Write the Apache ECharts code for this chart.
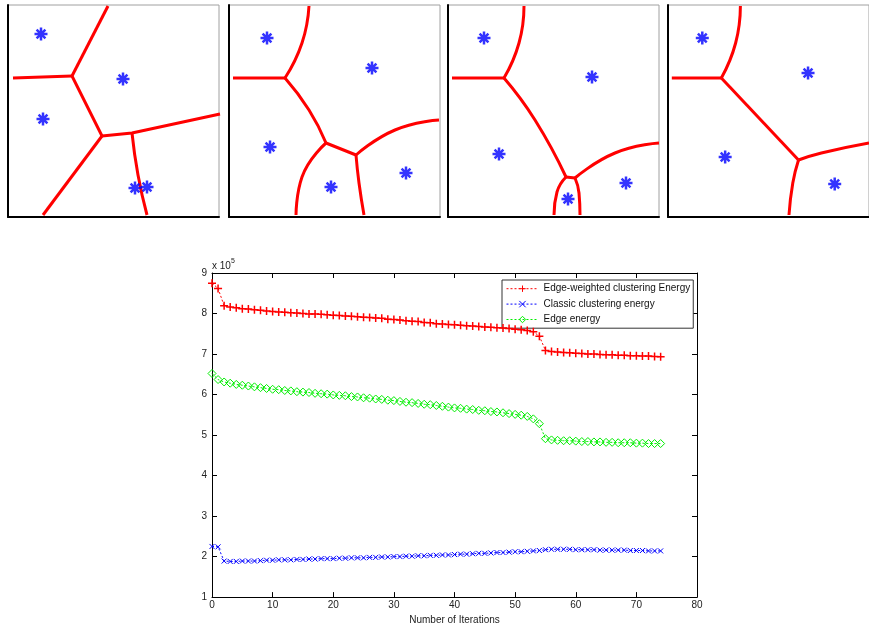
<!DOCTYPE html>
<html>
<head>
<meta charset="utf-8">
<script src="https://cdn.jsdelivr.net/npm/echarts@6/dist/echarts.min.js"></script>
<style>
html,body{margin:0;padding:0;background:#fff;}
#c{width:869px;height:630px;}
</style>
</head>
<body>
<div id="c"></div>
<script>
// ---------- main chart data ----------
const iterations = Array.from({length: 75}, (_, i) => i);
const edgeWeightedEnergy = [8.75,8.62,8.19,8.16,8.14,8.12,8.11,8.09,8.08,8.06,
  8.05,8.04,8.03,8.02,8.01,8.00,7.99,7.99,7.98,7.97,
  7.96,7.95,7.94,7.93,7.92,7.91,7.90,7.89,7.88,7.86,
  7.85,7.84,7.82,7.81,7.80,7.78,7.77,7.75,7.74,7.73,
  7.72,7.71,7.70,7.69,7.68,7.67,7.66,7.65,7.64,7.63,
  7.61,7.60,7.58,7.55,7.44,7.09,7.06,7.05,7.04,7.03,
  7.02,7.01,7.00,7.00,6.99,6.98,6.98,6.97,6.97,6.96,
  6.96,6.95,6.95,6.94,6.93];
const classicEnergy = [2.25,2.24,1.89,1.88,1.88,1.89,1.89,1.89,1.90,1.91,
  1.91,1.92,1.92,1.92,1.93,1.93,1.94,1.94,1.95,1.95,
  1.95,1.96,1.96,1.97,1.97,1.97,1.98,1.98,1.99,1.99,
  2.00,2.00,2.01,2.01,2.02,2.02,2.03,2.03,2.04,2.04,
  2.05,2.06,2.06,2.07,2.08,2.08,2.09,2.10,2.10,2.11,
  2.12,2.12,2.13,2.14,2.15,2.17,2.18,2.18,2.18,2.18,
  2.17,2.17,2.17,2.17,2.16,2.16,2.16,2.16,2.16,2.15,
  2.15,2.15,2.14,2.14,2.14];
const edgeEnergy = [6.52,6.37,6.31,6.28,6.25,6.23,6.21,6.19,6.17,6.15,
  6.13,6.12,6.10,6.09,6.07,6.06,6.05,6.03,6.02,6.01,
  5.99,5.98,5.97,5.95,5.94,5.92,5.91,5.89,5.88,5.86,
  5.85,5.83,5.81,5.80,5.78,5.76,5.75,5.73,5.71,5.69,
  5.67,5.66,5.64,5.63,5.61,5.60,5.58,5.57,5.55,5.53,
  5.51,5.49,5.46,5.40,5.28,4.91,4.88,4.87,4.86,4.86,
  4.85,4.84,4.84,4.83,4.83,4.82,4.82,4.81,4.81,4.81,
  4.80,4.80,4.79,4.79,4.79];
const seriesNames = ['Edge-weighted clustering Energy','Classic clustering energy','Edge energy'];
const xTicks = [0,10,20,30,40,50,60,70,80];
const yTicks = [1,2,3,4,5,6,7,8,9];
const xTitle = 'Number of Iterations';

// ---------- top panels: region boundaries & centers (panel units, y downward) ----------
const panel1Centers = [[33,29],[115,74],[35,114],[127,183],[139,182]];
const panel1Edges = [
  {pts:[[5,73],[64,71]], smooth:false},
  {pts:[[64,71],[100,1]], smooth:false},
  {pts:[[64,71],[94,131]], smooth:false},
  {pts:[[94,131],[35,210]], smooth:false},
  {pts:[[94,131],[124,128],[212,109]], smooth:false},
  {pts:[[124,128],[130,170],[139,210]], smooth:true}
];
const panel2Centers = [[38,33],[143,63],[41,142],[102,182],[177,168]];
const panel2Edges = [
  {pts:[[4,73],[56,73]], smooth:false},
  {pts:[[56,73],[73,38],[80,1]], smooth:true},
  {pts:[[56,73],[80,105],[97,138]], smooth:true},
  {pts:[[97,138],[127,150]], smooth:false},
  {pts:[[97,138],[73,172],[67,210]], smooth:true},
  {pts:[[127,150],[130,178],[135,210]], smooth:true},
  {pts:[[127,150],[166,125],[210,115]], smooth:true}
];
const panel3Centers = [[36,33],[144,72],[51,149],[120,194],[178,178]];
const panel3Edges = [
  {pts:[[4,73],[56,73]], smooth:false},
  {pts:[[56,73],[71,38],[76,1]], smooth:true},
  {pts:[[56,73],[87,115],[118,172]], smooth:true},
  {pts:[[118,172],[127,173]], smooth:false},
  {pts:[[118,172],[109,187],[106,210]], smooth:true},
  {pts:[[127,173],[131,188],[132,210]], smooth:true},
  {pts:[[127,173],[167,148],[211,138]], smooth:true}
];
const panel4Centers = [[36,33],[147,68],[60,152],[175,179]];
const panel4Edges = [
  {pts:[[4,73],[56,73]], smooth:false},
  {pts:[[56,73],[71,38],[76,1]], smooth:true},
  {pts:[[56,73],[137,155]], smooth:false},
  {pts:[[137,155],[131,178],[127,210]], smooth:true},
  {pts:[[137,155],[161,148],[211,138]], smooth:true}
];
const panels = [
  {centers: panel1Centers, edges: panel1Edges},
  {centers: panel2Centers, edges: panel2Edges},
  {centers: panel3Centers, edges: panel3Edges},
  {centers: panel4Centers, edges: panel4Edges}
];

// ---------- layout ----------
const panelLefts = [8, 229, 448, 668];
const panelTop = 5, panelSize = 211;
const mainGrid = {left: 212, top: 273, width: 485, height: 327};

const chart = echarts.init(document.getElementById('c'), null, {renderer: 'canvas'});

const grids = [], xAxes = [], yAxes = [], series = [];
const starPath = 'path://M5,0L5,10M0,5L10,5M1.6,1.6L8.4,8.4M8.4,1.6L1.6,8.4';

panels.forEach((p, i) => {
  grids.push({left: panelLefts[i], top: panelTop, width: panelSize, height: panelSize + 1,
    show: true, borderColor: '#a0a0a0', borderWidth: 1, backgroundColor: '#fff'});
  xAxes.push({type: 'value', gridIndex: i, min: 0, max: panelSize, position: 'bottom',
    axisLine: {show: true, onZero: false, lineStyle: {color: '#000', width: 2}},
    axisTick: {show: false}, axisLabel: {show: false}, splitLine: {show: false}});
  yAxes.push({type: 'value', gridIndex: i, min: 0, max: panelSize + 1, inverse: true, position: 'left',
    axisLine: {show: true, onZero: false, lineStyle: {color: '#000', width: 2}},
    axisTick: {show: false}, axisLabel: {show: false}, splitLine: {show: false}});
  p.edges.forEach(e => {
    series.push({type: 'line', xAxisIndex: i, yAxisIndex: i, data: e.pts,
      smooth: e.smooth ? 0.5 : false, symbol: 'none', silent: true,
      lineStyle: {color: '#ff0000', width: 3}, z: 2});
  });
  series.push({type: 'scatter', xAxisIndex: i, yAxisIndex: i, data: p.centers,
    symbol: starPath, symbolSize: 13, silent: true,
    itemStyle: {color: 'none', borderColor: '#0000ff', borderWidth: 2.5}, z: 3});
});

// main chart
const gi = 4;
grids.push(Object.assign({show: false}, mainGrid));
const axisLabelStyle = {fontFamily: 'Liberation Sans, Arial, sans-serif', fontSize: 10, color: '#222'};
xAxes.push({type: 'value', gridIndex: gi, min: xTicks[0], max: xTicks[xTicks.length-1], interval: 10,
  position: 'bottom',
  name: xTitle, nameLocation: 'middle', nameGap: 16,
  nameTextStyle: Object.assign({}, axisLabelStyle, {color: '#222'}),
  axisLine: {show: true, onZero: false, lineStyle: {color: '#000', width: 1}},
  axisTick: {show: true, inside: true, length: 5, lineStyle: {color: '#000'}},
  axisLabel: Object.assign({margin: 3}, axisLabelStyle),
  splitLine: {show: false}});
xAxes.push({type: 'value', gridIndex: gi, min: xTicks[0], max: xTicks[xTicks.length-1], interval: 10,
  position: 'top',
  axisLine: {show: true, onZero: false, lineStyle: {color: '#000', width: 1}},
  axisTick: {show: true, inside: true, length: 5, lineStyle: {color: '#000'}},
  axisLabel: {show: false}, splitLine: {show: false}});
yAxes.push({type: 'value', gridIndex: gi, min: yTicks[0], max: yTicks[yTicks.length-1], interval: 1,
  position: 'left',
  axisLine: {show: true, onZero: false, lineStyle: {color: '#000', width: 1}},
  axisTick: {show: true, inside: true, length: 5, lineStyle: {color: '#000'}},
  axisLabel: Object.assign({margin: 5}, axisLabelStyle),
  splitLine: {show: false}});
yAxes.push({type: 'value', gridIndex: gi, min: yTicks[0], max: yTicks[yTicks.length-1], interval: 1,
  position: 'right',
  axisLine: {show: true, onZero: false, lineStyle: {color: '#000', width: 1}},
  axisTick: {show: true, inside: true, length: 5, lineStyle: {color: '#000'}},
  axisLabel: {show: false}, splitLine: {show: false}});

const plusPath = 'path://M5,0L5,10M0,5L10,5';
const crossPath = 'path://M0,0L10,10M10,0L0,10';
const diamondPath = 'path://M5,0L10,5L5,10L0,5Z';
function mk(name, vals, color, sym, size, bw) {
  return {name: name, type: 'line', xAxisIndex: 4, yAxisIndex: 4,
    data: iterations.map((x, k) => [x, vals[k]]),
    symbol: sym, symbolSize: size, showSymbol: true, silent: true,
    lineStyle: {color: color, width: 1, type: [2, 2]},
    itemStyle: {color: 'none', borderColor: color, borderWidth: bw},
    z: 5};
}
series.push(mk(seriesNames[0], edgeWeightedEnergy, '#ff0000', plusPath, 8, 1.5));
series.push(mk(seriesNames[1], classicEnergy, '#0000ff', crossPath, 5, 1));
series.push(mk(seriesNames[2], edgeEnergy, '#00ee00', diamondPath, 8, 1));

const option = {
  animation: false,
  backgroundColor: '#fff',
  grid: grids, xAxis: xAxes, yAxis: yAxes, series: series,
  legend: {
    data: seriesNames, orient: 'vertical', left: 502, top: 280,
    itemWidth: 32, itemHeight: 8, itemGap: 4,
    padding: [3, 3, 3, 4],
    lineStyle: {width: 1},
    itemStyle: {borderWidth: 1},
    backgroundColor: '#fff', borderColor: '#333', borderWidth: 1, borderRadius: 0,
    textStyle: {fontFamily: 'Liberation Sans, Arial, sans-serif', fontSize: 10, color: '#111'},
    selectedMode: false
  },
  graphic: [{
    type: 'text', left: 212, top: 258,
    style: {
      text: '{a|x 10}{b|5}',
      rich: {
        a: {fontFamily: 'Liberation Sans, Arial, sans-serif', fontSize: 10, fill: '#222', verticalAlign: 'bottom'},
        b: {fontFamily: 'Liberation Sans, Arial, sans-serif', fontSize: 7, fill: '#222', verticalAlign: 'top', padding: [0,0,6,0]}
      }
    }
  }]
};
chart.setOption(option);
</script>
</body>
</html>
